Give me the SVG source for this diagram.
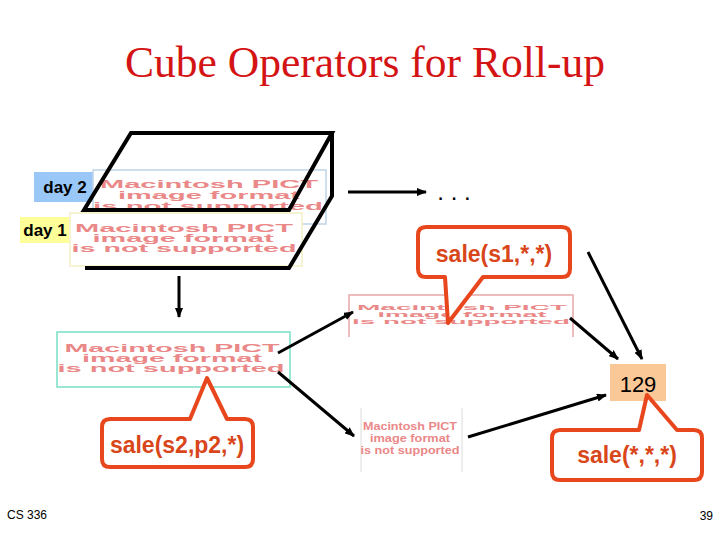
<svg xmlns="http://www.w3.org/2000/svg" width="720" height="540" viewBox="0 0 720 540">
<style>
.title{font-family:"Liberation Serif","Times New Roman",serif;font-size:45px;fill:#d41414}
.pict{font-family:"Liberation Sans",Arial,sans-serif;font-weight:bold;fill:#ea8888;text-anchor:middle}
.day{font-family:"Liberation Sans",Arial,sans-serif;font-weight:bold;font-size:17px;fill:#000;text-anchor:middle}
.sale{font-family:"Liberation Sans",Arial,sans-serif;font-weight:bold;font-size:23px;fill:#d8461a;text-anchor:middle}
.callout{fill:#fff;stroke:#e8461c;stroke-width:4;stroke-linejoin:round}
.conn{stroke:#000;stroke-width:3;fill:none;marker-end:url(#arr)}
.cube{stroke:#000;stroke-width:4;fill:none;stroke-linejoin:miter}
.foot{font-family:"Liberation Sans",Arial,sans-serif;font-size:12px;fill:#000}
</style>
<defs>
<marker id="arr" markerWidth="10" markerHeight="8" refX="9" refY="4" orient="auto" markerUnits="userSpaceOnUse">
<path d="M0,0 L10,4 L0,8 Z" fill="#000"/>
</marker>
</defs>
<rect width="720" height="540" fill="#fff"/>
<text class="title" x="365" y="77" text-anchor="middle" textLength="480" lengthAdjust="spacingAndGlyphs">Cube Operators for Roll-up</text>

<g id="day2">
<rect x="34" y="172" width="59" height="30" fill="#99c8f8"/>
<text class="day" x="65" y="193">day 2</text>
</g>
<g id="day2-image">
<rect x="93" y="170" width="233" height="54" fill="#fff" stroke="#c0d4e8" stroke-width="1.5"/>
<text class="pict" font-size="10" x="209" y="188" textLength="218" lengthAdjust="spacingAndGlyphs">Macintosh PICT</text>
<text class="pict" font-size="10" x="209" y="199" textLength="182" lengthAdjust="spacingAndGlyphs">image format</text>
<text class="pict" font-size="10" x="208" y="210" textLength="230" lengthAdjust="spacingAndGlyphs">is not supported</text>
</g>
<g id="day1">
<rect x="20" y="217" width="49" height="26" fill="#ffff99"/>
<text class="day" x="45" y="236">day 1</text>
</g>
<g id="day1-image">
<rect x="70" y="213" width="232" height="53" fill="#fff" stroke="#f4f0c4" stroke-width="1.5"/>
<text class="pict" font-size="10" x="184" y="232" textLength="218" lengthAdjust="spacingAndGlyphs">Macintosh PICT</text>
<text class="pict" font-size="10" x="183" y="242" textLength="181" lengthAdjust="spacingAndGlyphs">image format</text>
<text class="pict" font-size="10" x="184" y="252" textLength="225" lengthAdjust="spacingAndGlyphs">is not supported</text>
</g>
<g id="cube">
<path class="cube" d="M131,133 L332,133 L289,210 L84,210 Z"/>
<path class="cube" d="M332,133 L332,196 L289,268 L85,268"/>
</g>

<g id="dots">
<text x="454" y="200" font-family="Liberation Sans, Arial, sans-serif" font-size="24" text-anchor="middle">. . .</text>
</g>

<g id="pict-mid">
<path d="M349,337 V295 H573 V337" fill="#fff" stroke="#e8a8a8" stroke-width="1.5"/>
<text class="pict" font-size="6.5" x="462" y="310" textLength="210" lengthAdjust="spacingAndGlyphs">Macintosh PICT</text>
<text class="pict" font-size="6.5" x="462" y="317" textLength="169" lengthAdjust="spacingAndGlyphs">image format</text>
<text class="pict" font-size="6.5" x="461" y="324" textLength="218" lengthAdjust="spacingAndGlyphs">is not supported</text>
</g>

<g id="pict-left">
<rect x="57" y="332" width="233" height="55" fill="#fff" stroke="#78e0c4" stroke-width="1.5"/>
<text class="pict" font-size="10" x="172" y="352" textLength="215" lengthAdjust="spacingAndGlyphs">Macintosh PICT</text>
<text class="pict" font-size="10" x="172" y="362" textLength="180" lengthAdjust="spacingAndGlyphs">image format</text>
<text class="pict" font-size="10" x="171" y="372" textLength="227" lengthAdjust="spacingAndGlyphs">is not supported</text>
</g>

<g id="pict-small">
<line x1="361" y1="408" x2="361" y2="472" stroke="#dcdcdc" stroke-width="1"/>
<line x1="462" y1="408" x2="462" y2="472" stroke="#dcdcdc" stroke-width="1"/>
<text class="pict" font-size="11.5" x="410" y="430" textLength="94" lengthAdjust="spacingAndGlyphs">Macintosh PICT</text>
<text class="pict" font-size="11.5" x="410" y="442" textLength="80" lengthAdjust="spacingAndGlyphs">image format</text>
<text class="pict" font-size="11.5" x="410" y="454" textLength="99" lengthAdjust="spacingAndGlyphs">is not supported</text>
</g>

<g id="total">
<rect x="610" y="364" width="56" height="37" fill="#fac796"/>
<text x="638" y="392" font-family="Liberation Sans, Arial, sans-serif" font-size="22" text-anchor="middle" fill="#000">129</text>
</g>

<g id="connectors">
<line class="conn" x1="179" y1="276" x2="179" y2="317"/>
<line class="conn" x1="348" y1="192" x2="426" y2="192"/>
<line class="conn" x1="278" y1="353" x2="353" y2="312"/>
<line class="conn" x1="278" y1="372" x2="354" y2="436"/>
<line class="conn" x1="468" y1="437" x2="606" y2="395"/>
<line class="conn" x1="570" y1="318" x2="618" y2="359"/>
<line class="conn" x1="588" y1="252" x2="642" y2="359"/>
</g>

<g id="callout-s1">
<path class="callout" d="M426,227 H562 Q570,227 570,235 V269 Q570,277 562,277 H483 L448,323 L445,277 H426 Q418,277 418,269 V235 Q418,227 426,227 Z"/>
<text class="sale" x="494" y="262">sale(s1,*,*)</text>
</g>
<g id="callout-s2">
<path class="callout" d="M110,419 H190 L207,378 L227,419 H245 Q253,419 253,427 V459 Q253,467 245,467 H110 Q102,467 102,459 V427 Q102,419 110,419 Z"/>
<text class="sale" x="177" y="453">sale(s2,p2,*)</text>
</g>
<g id="callout-all">
<path class="callout" d="M560,430 H639 L647,395 L677,430 H694 Q702,430 702,438 V472 Q702,480 694,480 H560 Q552,480 552,472 V438 Q552,430 560,430 Z"/>
<text class="sale" x="627" y="463">sale(*,*,*)</text>
</g>

<text class="foot" x="7" y="519">CS 336</text>
<text class="foot" x="713" y="520" font-size="13" text-anchor="end">39</text>
</svg>
